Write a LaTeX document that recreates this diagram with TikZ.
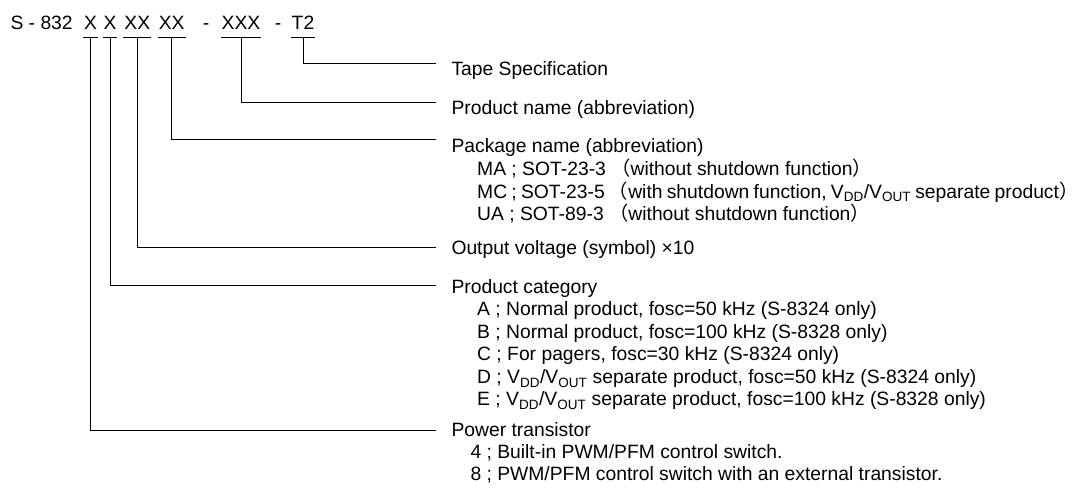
\documentclass[tikz,border=0pt]{standalone}
\usepackage{fontspec}
\setmainfont{Liberation Sans}
\newfontfamily\jpfont{Noto Sans CJK JP}
\newcommand{\lpar}{{\jpfont （}}
\newcommand{\rpar}{{\jpfont ）\kern-0.45em}}
\newcommand{\vddout}{V\textsubscript{DD}/V\textsubscript{OUT}}
\begin{document}
\begin{tikzpicture}[x=1pt,y=-1pt,line width=1pt,
        every node/.style={inner sep=0pt,anchor=base west,font=\fontsize{19.3}{22}\selectfont},
        grp/.style={anchor=base,inner xsep=0.5pt,inner ysep=7pt}]
    \useasboundingbox (0,0) rectangle (1080,489);
    \node (pre) at (10,30) {S - 832};
    \node[grp] (g1) at (90.5,30) {X};
    \node[grp] (g2) at (110,30) {X};
    \node[grp] (g3) at (137.3,30) {XX};
    \node[grp] (g4) at (171.7,30) {XX};
    \node[anchor=base] (d1) at (206,30) {-};
    \node[grp] (g5) at (241,30) {XXX};
    \node[anchor=base] (d2) at (278,30) {-};
    \node[grp] (g6) at (303,30) {T2};
    \foreach \g in {g1,g2,g3,g4,g5,g6}
        \draw (\g.south west) -- (\g.south east);
    \node (tape) at (451,76) {Tape Specification};
    \node (prod) at (451,115) {Product name (abbreviation)};
    \node (pkg) at (451,153) {Package name (abbreviation)};
    \node (ma) at (476.7,176) {MA ; SOT-23-3 \lpar without shutdown function\rpar};
    \node (mc) at (476.7,198.5) {\spaceskip=0.22em MC ; SOT-23-5 \lpar with shutdown function, \vddout{} separate product\rpar};
    \node (ua) at (476.7,221) {UA ; SOT-89-3 \lpar without shutdown function\rpar};
    \node (out) at (451,255) {Output voltage (symbol) ×10};
    \node (cat) at (451,294) {Product category};
    \node (ca) at (476.7,316) {A ; Normal product, fosc=50 kHz (S-8324 only)};
    \node (cb) at (476.7,338) {B ; Normal product, fosc=100 kHz (S-8328 only)};
    \node (cc) at (476.7,360) {C ; For pagers, fosc=30 kHz (S-8324 only)};
    \node (cd) at (476.7,384) {D ; \vddout{} separate product, fosc=50 kHz (S-8324 only)};
    \node (ce) at (476.7,406) {E ; \vddout{} separate product, fosc=100 kHz (S-8328 only)};
    \node (pwr) at (451,436) {Power transistor};
    \node (p4) at (470,458) {4 ; Built-in PWM/PFM control switch.};
    \node (p8) at (470,480) {8 ; PWM/PFM control switch with an external transistor.};
    \draw (g6.south) |- ([xshift=-15pt,yshift=12pt]tape.base west);
    \draw (g5.south) |- ([xshift=-15pt,yshift=12pt]prod.base west);
    \draw (g4.south) |- ([xshift=-15pt,yshift=13pt]pkg.base west);
    \draw (g3.south) |- ([xshift=-15pt,yshift=7pt]out.base west);
    \draw (g2.south) |- ([xshift=-15pt,yshift=8pt]cat.base west);
    \draw (g1.south) |- ([xshift=-15pt,yshift=6pt]pwr.base west);
\end{tikzpicture}
\end{document}
